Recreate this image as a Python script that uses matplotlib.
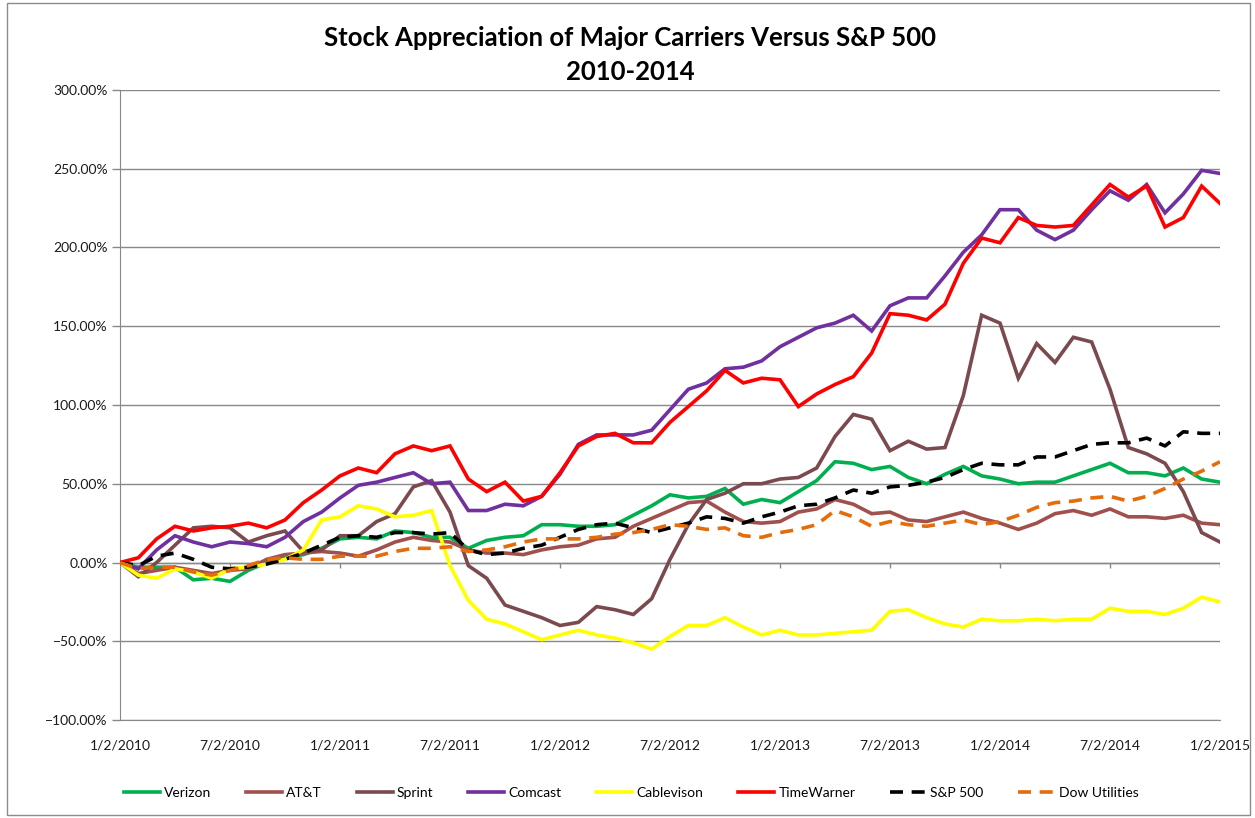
import matplotlib
matplotlib.use("Agg")
import matplotlib.pyplot as plt
from matplotlib.ticker import PercentFormatter
from matplotlib.patches import Rectangle
import numpy as np

plt.rcParams['font.family'] = ['Lato', 'DejaVu Sans']

# Month index 0 = 1/2/2010 ... 60 = 1/2/2015
months = np.arange(61)
tick_positions = [0, 6, 12, 18, 24, 30, 36, 42, 48, 54, 60]
tick_labels = ["1/2/2010", "7/2/2010", "1/2/2011", "7/2/2011", "1/2/2012", "7/2/2012",
               "1/2/2013", "7/2/2013", "1/2/2014", "7/2/2014", "1/2/2015"]

verizon = [0, -3, -3, -3, -11, -10, -12, -5, 0, 3, 5, 9, 15, 16, 15, 20, 19, 16, 16, 9, 14,
           16, 17, 24, 24, 23, 23, 24, 30, 36, 43, 41, 42, 47, 37, 40, 38, 45, 52, 64, 63,
           59, 61, 54, 50, 56, 61, 55, 53, 50, 51, 51, 55, 59, 63, 57, 57, 55, 60, 53, 51]
att = [0, -7, -5, -3, -5, -7, -5, -4, 2, 5, 6, 7, 6, 4, 8, 13, 16, 14, 13, 8, 6,
       6, 5, 8, 10, 11, 15, 16, 23, 28, 33, 38, 39, 32, 26, 25, 26, 32, 34, 40, 37,
       31, 32, 27, 26, 29, 32, 28, 25, 21, 25, 31, 33, 30, 34, 29, 29, 28, 30, 25, 24]
sprint = [0, -9, 0, 11, 22, 23, 22, 13, 17, 20, 7, 8, 17, 17, 26, 31, 48, 52, 32, -2, -10,
          -27, -31, -35, -40, -38, -28, -30, -33, -23, 2, 24, 40, 44, 50, 50, 53, 54, 60, 80, 94,
          91, 71, 77, 72, 73, 106, 157, 152, 117, 139, 127, 143, 140, 110, 73, 69, 63, 45, 19, 13]
comcast = [0, -4, 8, 17, 13, 10, 13, 12, 10, 16, 26, 32, 41, 49, 51, 54, 57, 50, 51, 33, 33,
           37, 36, 42, 56, 75, 81, 81, 81, 84, 97, 110, 114, 123, 124, 128, 137, 143, 149, 152, 157,
           147, 163, 168, 168, 182, 197, 208, 224, 224, 211, 205, 211, 224, 236, 230, 240, 222, 234, 249, 247]
cablevision = [0, -8, -10, -4, -6, -10, -4, -3, -1, 2, 8, 27, 29, 36, 34, 29, 30, 33, -2, -24, -36,
               -39, -44, -49, -46, -43, -46, -48, -51, -55, -47, -40, -40, -35, -41, -46, -43, -46, -46, -45, -44,
               -43, -31, -30, -35, -39, -41, -36, -37, -37, -36, -37, -36, -36, -29, -31, -31, -33, -29, -22, -25]
timewarner = [0, 3, 15, 23, 20, 22, 23, 25, 22, 27, 38, 46, 55, 60, 57, 69, 74, 71, 74, 53, 45,
              51, 39, 42, 57, 74, 80, 82, 76, 76, 89, 99, 109, 122, 114, 117, 116, 99, 107, 113, 118,
              133, 158, 157, 154, 164, 190, 206, 203, 219, 214, 213, 214, 227, 240, 232, 239, 213, 219, 239, 228]
sp500 = [0, -2, 4, 6, 2, -3, -4, -3, -1, 2, 6, 11, 16, 17, 16, 19, 19, 18, 19, 8, 5,
         6, 9, 11, 16, 21, 24, 25, 22, 19, 22, 25, 29, 28, 25, 29, 32, 36, 37, 41, 46,
         44, 48, 49, 51, 54, 59, 63, 62, 62, 67, 67, 71, 75, 76, 76, 79, 74, 83, 82, 82]
dow_util = [0, -4, -3, -3, -6, -8, -5, -2, 2, 3, 2, 2, 4, 4, 4, 7, 9, 9, 10, 7, 8,
            10, 13, 15, 15, 15, 16, 18, 19, 21, 24, 23, 21, 22, 17, 16, 19, 21, 24, 33, 29,
            23, 26, 24, 23, 25, 27, 24, 26, 30, 35, 38, 39, 41, 42, 39, 42, 47, 53, 58, 64]

W, H = 1255, 818
fig = plt.figure(figsize=(W / 100, H / 100), dpi=100)
ax = fig.add_axes([120 / W, 1 - 720 / H, 1100 / W, 630 / H])

grid_c = '#888888'
lw = 2.6
series = [
    ("Verizon", verizon, '#00B050', '-'),
    ("AT&T", att, '#A0504D', '-'),
    ("Sprint", sprint, '#7B4A4E', '-'),
    ("Comcast", comcast, '#7030A0', '-'),
    ("Cablevison", cablevision, '#FFFF00', '-'),
    ("TimeWarner", timewarner, '#FF0000', '-'),
    ("S&P 500", sp500, '#000000', '--'),
    ("Dow Utilities", dow_util, '#E46C0A', '--'),
]
for name, vals, col, ls in series:
    line, = ax.plot(months, vals, color=col, lw=lw, ls=ls, label=name,
                    solid_joinstyle='miter', zorder=3)
    if ls == '--':
        line.set_dashes((3.6, 2.4))

ax.set_xlim(0, 60)
ax.set_ylim(-100, 300)
ax.set_yticks(np.arange(-100, 301, 50))
ax.yaxis.set_major_formatter(PercentFormatter(xmax=100, decimals=2))
ax.grid(axis='y', color=grid_c, lw=1, zorder=0)
ax.set_axisbelow(True)

ax.set_xticks(tick_positions)
ax.set_xticklabels(tick_labels)
ax.tick_params(axis='x', length=0, pad=14, labelsize=10, colors='#1a1a1a')
ax.tick_params(axis='y', length=6, width=1, color=grid_c, labelsize=10, labelcolor='#1a1a1a', pad=3)

for s in ['top', 'right']:
    ax.spines[s].set_visible(False)
ax.spines['left'].set_color(grid_c)
ax.spines['bottom'].set_color(grid_c)

# horizontal axis crosses at 0 with tick marks
ax.axhline(0, color=grid_c, lw=1, zorder=1)
ax.vlines(tick_positions, -3.5, 0, color=grid_c, lw=1, zorder=1)

fig.text(630 / W, 1 - 38 / H, "Stock Appreciation of Major Carriers Versus S&P 500",
         ha='center', va='center', fontsize=18.5, fontweight='bold', color='black')
fig.text(630 / W, 1 - 72 / H, "2010-2014",
         ha='center', va='center', fontsize=18.5, fontweight='bold', color='black')

handles, labels = ax.get_legend_handles_labels()
leg = fig.legend(handles, labels, loc='center', bbox_to_anchor=(631 / W, 1 - 793 / H),
                 ncol=8, frameon=False, fontsize=10, handlelength=2.6,
                 columnspacing=2.5, handletextpad=0.3)

fig.patches.append(Rectangle((7 / W, 3 / H), 1243 / W, 812 / H, transform=fig.transFigure,
                             fill=False, edgecolor='#8c8c8c', lw=1))

fig.savefig("out.png", dpi=100)
